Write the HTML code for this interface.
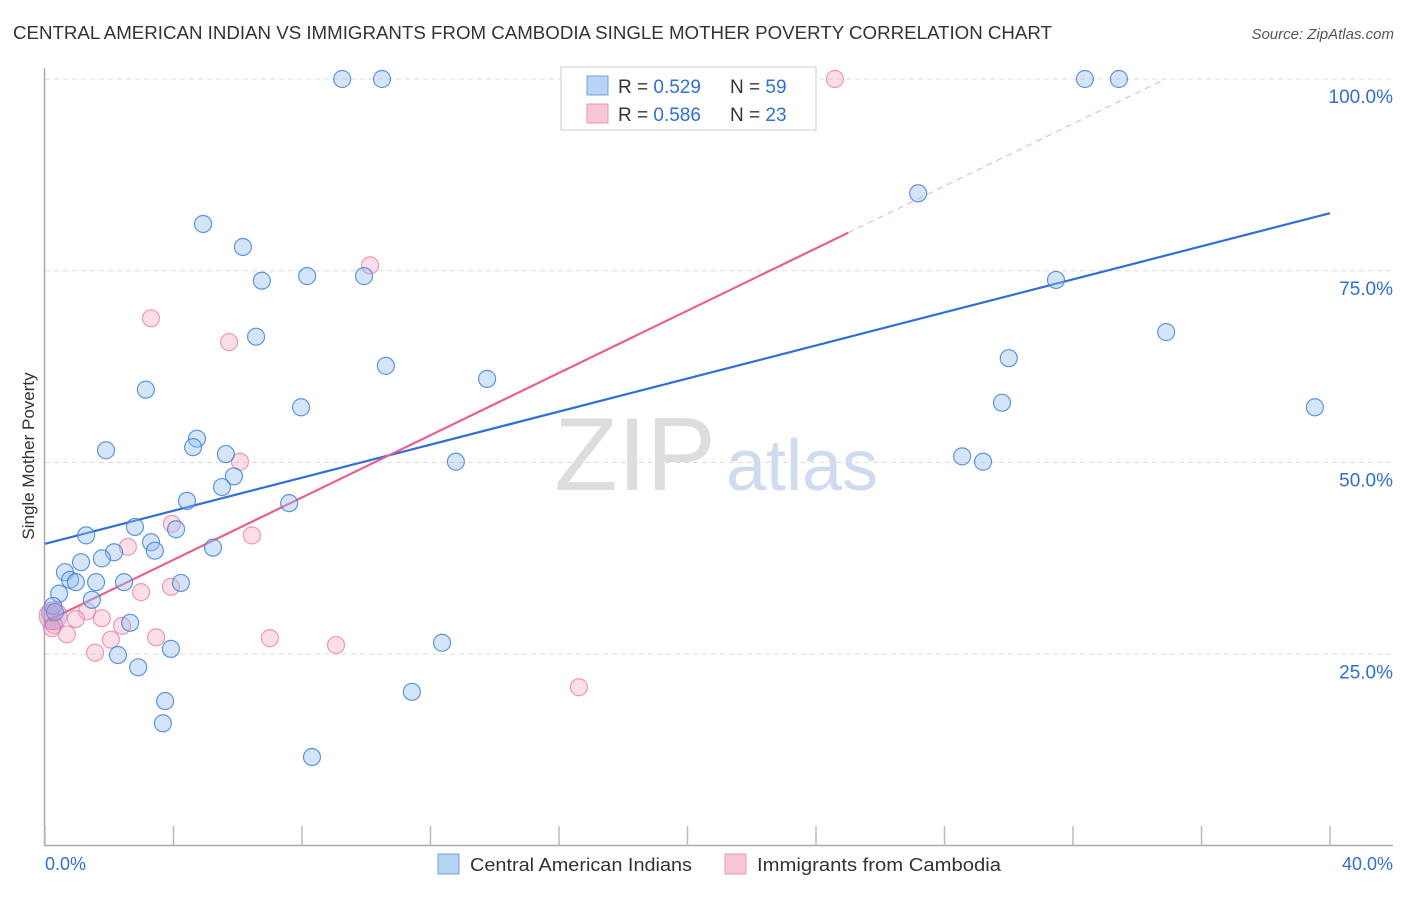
<!DOCTYPE html>
<html><head><meta charset="utf-8"><style>
body{margin:0;background:#fff;font-family:"Liberation Sans",sans-serif;}
svg text{font-family:"Liberation Sans",sans-serif;}
</style></head><body>
<svg id="chart" width="1406" height="892" xmlns="http://www.w3.org/2000/svg">
<text x="13" y="39" font-size="18" fill="#333" textLength="1039" lengthAdjust="spacingAndGlyphs">CENTRAL AMERICAN INDIAN VS IMMIGRANTS FROM CAMBODIA SINGLE MOTHER POVERTY CORRELATION CHART</text>
<text x="1394" y="39" font-size="15" fill="#555" font-style="italic" text-anchor="end">Source: ZipAtlas.com</text>
<text transform="translate(34,456) rotate(-90)" font-size="17" fill="#333" text-anchor="middle">Single Mother Poverty</text>
<g><text x="635" y="490" font-size="104" fill="#ddd" font-family="Liberation Serif,serif" text-anchor="middle">ZIP</text><text x="802" y="490" font-size="72" fill="#cfdcf0" text-anchor="middle">atlas</text></g>
<g id="grid"></g><g id="axes"></g><g id="lines"></g><g id="pts"></g>
<g>
<rect x="561" y="67" width="255" height="63" fill="#fff" stroke="#ccc"/>
<rect x="587" y="76" width="21" height="19" fill="#b9d3f5" stroke="#6f9fe0"/>
<rect x="587" y="104" width="21" height="19" fill="#f9c6d6" stroke="#ee97b2"/>
<text x="618" y="93" font-size="19" fill="#333">R = <tspan fill="#2f6fd6">0.529</tspan></text>
<text x="730" y="93" font-size="19" fill="#333">N = <tspan fill="#2f6fd6">59</tspan></text>
<text x="618" y="121" font-size="19" fill="#333">R = <tspan fill="#2f6fd6">0.586</tspan></text>
<text x="730" y="121" font-size="19" fill="#333">N = <tspan fill="#2f6fd6">23</tspan></text>
</g>
<g>
<rect x="438" y="854" width="21" height="20" fill="#b9d3f5" stroke="#6f9fe0"/>
<text x="470" y="871" font-size="18" fill="#333" textLength="222" lengthAdjust="spacingAndGlyphs">Central American Indians</text>
<rect x="725" y="854" width="21" height="20" fill="#f9c6d6" stroke="#ee97b2"/>
<text x="757" y="871" font-size="18" fill="#333" textLength="244" lengthAdjust="spacingAndGlyphs">Immigrants from Cambodia</text>
</g>
<text x="45" y="870" font-size="18" fill="#2f6fd6">0.0%</text>
<text x="1393" y="870" font-size="18" fill="#2f6fd6" text-anchor="end">40.0%</text>
</svg>
<script>
const blueX=[9.25,10.49,32.37,33.43,27.18,4.92,6.16,6.75,8.16,9.93,31.47,34.9,6.57,30.0,10.61,13.76,3.14,29.79,7.97,39.53,1.90,4.73,4.61,5.63,28.55,29.2,12.79,5.88,5.51,4.42,7.6,2.8,4.08,1.28,3.3,3.42,2.15,5.23,1.77,1.12,0.62,0.78,0.96,1.59,2.46,4.23,0.44,1.46,0.25,0.31,2.65,3.92,12.36,2.27,2.9,3.74,3.67,11.42,8.31];
const blueY=[100,100,100,100,85.1,81.1,78.1,73.7,74.3,74.3,73.8,67.0,66.4,63.6,62.6,60.9,59.5,57.8,57.2,57.2,51.6,53.1,52.0,51.1,50.8,50.1,50.1,48.2,46.8,45.0,44.7,41.6,41.3,40.5,39.6,38.5,38.3,38.9,37.5,37.0,35.7,34.7,34.4,34.4,34.4,34.3,32.9,32.1,31.3,30.5,29.1,25.7,26.5,24.9,23.3,18.9,16.0,20.1,11.6];
const pinkX=[24.59,10.12,3.3,5.73,6.07,3.95,6.44,2.58,3.92,2.99,1.31,1.77,0.96,0.16,0.28,0.68,2.4,3.46,2.05,1.56,7.0,9.06,16.62,0.22];
const pinkY=[100,75.7,68.8,65.7,50.1,42.0,40.5,39.0,33.8,33.1,30.6,29.7,29.6,30.4,28.8,27.6,28.7,27.2,26.9,25.2,27.1,26.2,20.7,28.4];
const blueLine=[39.4,82.5];
const pinkLine=[29.2,2.03];
const pinkSolidEnd=25.0;
const yTicks=[25,50,75,100];
const xTicks=[0,4,8,12,16,20,24,28,32,36,40];

const NS="http://www.w3.org/2000/svg";
const sx=v=>45+v/40*1285, sy=v=>846-v/100*767;
function mk(tag,attrs,parent){const e=document.createElementNS(NS,tag);for(const k in attrs)e.setAttribute(k,attrs[k]);document.getElementById(parent).appendChild(e);return e;}
yTicks.forEach(t=>{
  const l=mk('line',{x1:45,x2:1393,y1:sy(t),y2:sy(t),stroke:'#ddd','stroke-dasharray':'5,4'},'grid');
  
  
  const tx=mk('text',{x:1393,y:sy(t)+24,'font-size':19,fill:'#2f6fd6','text-anchor':'end'},'grid');
  tx.textContent=t.toFixed(1)+'%';
  
  
});
let a=mk('line',{x1:44.5,x2:44.5,y1:68,y2:846,stroke:'#aaa','stroke-width':1.5},'axes');


a=mk('line',{x1:44,x2:1393,y1:845.5,y2:845.5,stroke:'#aaa','stroke-width':1.5},'axes');


xTicks.forEach(t=>{const e=mk('line',{x1:sx(t),x2:sx(t),y1:826,y2:846,stroke:'#bbb','stroke-width':1.5},'axes');
  
  });
function dot(x,y,fill,stroke,name){const c=mk('circle',{cx:sx(x),cy:sy(y),r:8.5,fill:fill,stroke:stroke,'stroke-width':1.2},'pts');
  
  }
pinkX.forEach((x,i)=>dot(x,pinkY[i],'rgba(245,160,188,0.35)','rgba(232,130,165,0.8)','cambodia-point'));
blueX.forEach((x,i)=>dot(x,blueY[i],'rgba(150,190,240,0.4)','rgba(60,125,215,0.8)','central-american-point'));
let big=mk('circle',{cx:sx(0.25),cy:sy(30),r:14,fill:'rgba(170,140,200,0.45)',stroke:'rgba(200,120,170,0.6)'},'pts');


let ln=mk('line',{x1:sx(0),y1:sy(blueLine[0]),x2:sx(40),y2:sy(blueLine[1]),stroke:'#2f6fd6','stroke-width':2.2},'lines');


ln=mk('line',{x1:sx(0),y1:sy(pinkLine[0]),x2:sx(pinkSolidEnd),y2:sy(pinkLine[0]+pinkLine[1]*pinkSolidEnd),stroke:'#e8608e','stroke-width':2.2},'lines');


const xe=(100-pinkLine[0])/pinkLine[1];
ln=mk('line',{x1:sx(pinkSolidEnd),y1:sy(pinkLine[0]+pinkLine[1]*pinkSolidEnd),x2:sx(xe),y2:sy(100),stroke:'#eeaac0','stroke-width':1,'stroke-dasharray':'6,5'},'lines');


</script>
</body></html>
